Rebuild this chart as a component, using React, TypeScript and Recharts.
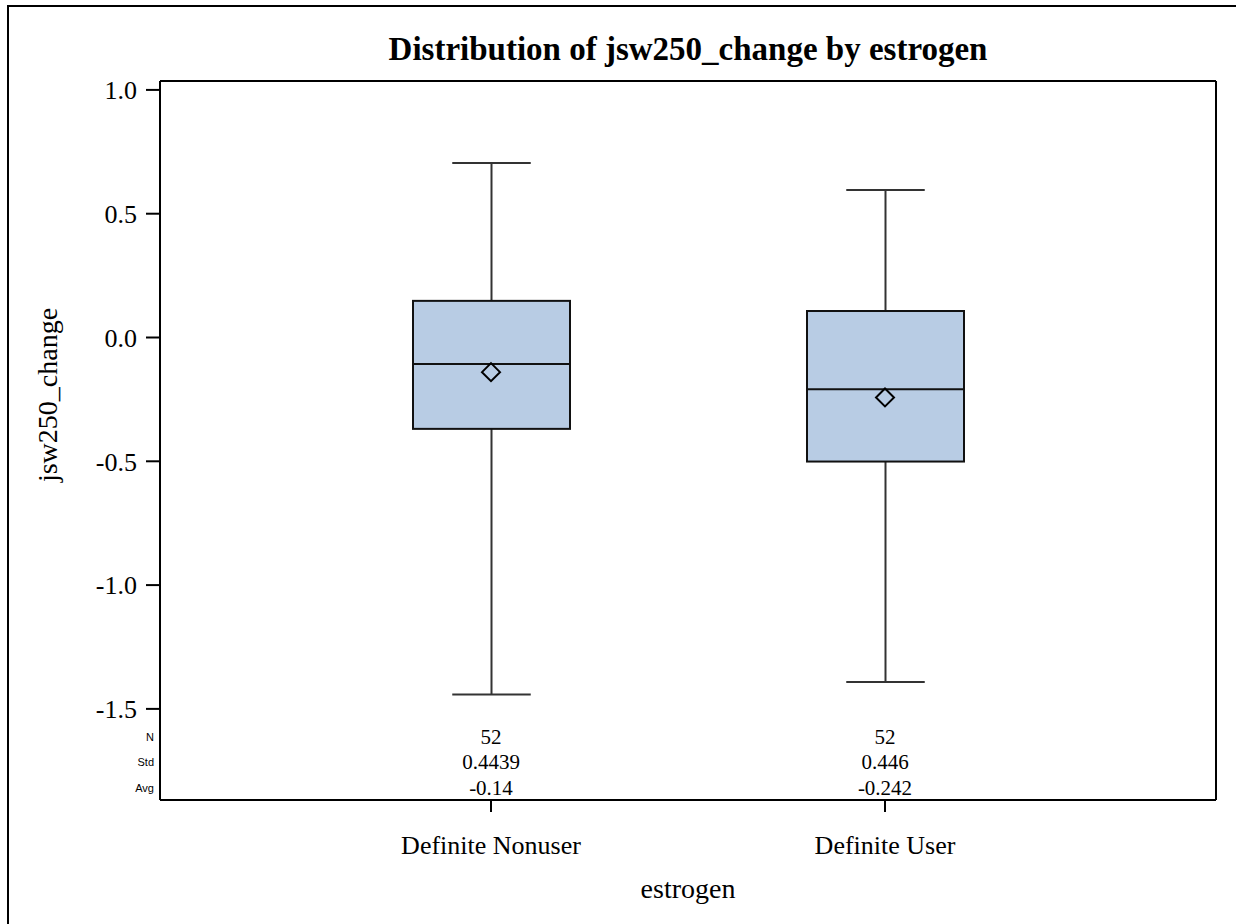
import React from 'react';
import { ComposedChart, Bar, Scatter, XAxis, YAxis, CartesianGrid } from 'recharts';

const categories = ['Definite Nonuser', 'Definite User'];
const mins = [-1.442, -1.391];
const q1s = [-0.369, -0.501];
const medians = [-0.107, -0.209];
const q3s = [0.148, 0.107];
const maxs = [0.705, 0.596];
const means = [-0.14, -0.242];
const counts = ['52', '52'];
const stds = ['0.4439', '0.446'];
const avgs = ['-0.14', '-0.242'];
const yTicks = [-1.5, -1.0, -0.5, 0.0, 0.5, 1.0];

const SERIF = '"Liberation Serif", "Times New Roman", serif';
const SANS = '"Liberation Sans", Arial, sans-serif';
const PLOT_LEFT = 151;

const data = categories.map((name, i) => ({
  name,
  range: [mins[i], maxs[i]],
  min: mins[i],
  q1: q1s[i],
  median: medians[i],
  q3: q3s[i],
  max: maxs[i],
  mean: means[i],
}));

const BoxShape = (props: any) => {
  const { x, y, width, height, payload } = props;
  const h = Math.abs(height);
  const top = height < 0 ? y + height : y;
  const span = payload.max - payload.min;
  const yOf = (v: number) => top + ((payload.max - v) / span) * h;
  const cx = x + width / 2;
  const capHalf = width / 4;
  return (
    <g>
      <line x1={cx} x2={cx} y1={yOf(payload.max)} y2={yOf(payload.q3)} stroke="#333" strokeWidth={2} />
      <line x1={cx} x2={cx} y1={yOf(payload.q1)} y2={yOf(payload.min)} stroke="#333" strokeWidth={2} />
      <line x1={cx - capHalf} x2={cx + capHalf} y1={yOf(payload.max)} y2={yOf(payload.max)} stroke="#333" strokeWidth={2} />
      <line x1={cx - capHalf} x2={cx + capHalf} y1={yOf(payload.min)} y2={yOf(payload.min)} stroke="#333" strokeWidth={2} />
      <rect
        x={x}
        y={yOf(payload.q3)}
        width={width}
        height={yOf(payload.q1) - yOf(payload.q3)}
        fill="#B8CCE4"
        stroke="#111"
        strokeWidth={2}
      />
      <line x1={x} x2={x + width} y1={yOf(payload.median)} y2={yOf(payload.median)} stroke="#111" strokeWidth={2} />
    </g>
  );
};

const MeanShape = (props: any) => {
  const { cx, cy } = props;
  const r = 9;
  return (
    <path
      d={`M${cx},${cy - r} L${cx + r},${cy} L${cx},${cy + r} L${cx - r},${cy} Z`}
      fill="none"
      stroke="#000"
      strokeWidth={2}
    />
  );
};

const CategoryTick = (props: any) => {
  const { x, y, payload, index } = props;
  const i = payload.index ?? index;
  const axisY = y - 11;
  return (
    <g fontFamily={SERIF} fill="#000">
      <line x1={x} x2={x} y1={axisY} y2={axisY + 12} stroke="#000" strokeWidth={2} />
      <text x={x} y={y - 67} textAnchor="middle" fontSize={21}>{counts[i]}</text>
      <text x={x} y={y - 42} textAnchor="middle" fontSize={21}>{stds[i]}</text>
      <text x={x} y={y - 16} textAnchor="middle" fontSize={21}>{avgs[i]}</text>
      <text x={x} y={y + 43} textAnchor="middle" fontSize={26}>{payload.value}</text>
      {i === 0 && (
        <g fontFamily={SANS} fontSize={11} textAnchor="end">
          <text x={PLOT_LEFT - 6} y={y - 70}>N</text>
          <text x={PLOT_LEFT - 6} y={y - 45}>Std</text>
          <text x={PLOT_LEFT - 6} y={y - 19}>Avg</text>
        </g>
      )}
    </g>
  );
};

const App: React.FC = () => {
  return (
    <div
      style={{
        position: 'fixed',
        top: 5,
        left: 7,
        width: 1236,
        height: 924,
        borderTop: '2px solid #000',
        borderLeft: '2px solid #000',
        background: '#fff',
        overflow: 'hidden',
      }}
    >
      <div
        style={{
          position: 'absolute',
          left: PLOT_LEFT,
          width: 1056,
          top: 24,
          textAlign: 'center',
          fontFamily: SERIF,
          fontWeight: 'bold',
          fontSize: 33,
          lineHeight: '36px',
        }}
      >
        Distribution of jsw250_change by estrogen
      </div>
      <ComposedChart
        width={1227}
        height={917}
        data={data}
        margin={{ top: 74, right: 20, left: 10, bottom: 24 }}
      >
        <CartesianGrid
          stroke="#000"
          strokeWidth={2}
          horizontalCoordinatesGenerator={({ offset }: any) => [offset.top, offset.top + offset.height]}
          verticalCoordinatesGenerator={({ offset }: any) => [offset.left, offset.left + offset.width]}
        />
        <XAxis
          dataKey="name"
          height={100}
          padding={{ left: 134, right: 134 }}
          axisLine={{ stroke: '#000', strokeWidth: 2 }}
          tickLine={false}
          tickSize={11}
          tickMargin={0}
          tick={<CategoryTick />}
          interval={0}
          label={(p: any) => {
            const vb = p.viewBox;
            return (
              <text x={vb.x + vb.width / 2} y={vb.y + 98} textAnchor="middle" fontFamily={SERIF} fontSize={28} fill="#000">
                estrogen
              </text>
            );
          }}
        />
        <YAxis
          width={141}
          domain={[-1.868, 1.036]}
          ticks={yTicks}
          allowDataOverflow
          tickFormatter={(v: number) => v.toFixed(1)}
          tick={{ fontFamily: SERIF, fontSize: 26, fill: '#000' }}
          tickSize={14}
          tickMargin={9}
          axisLine={{ stroke: '#000', strokeWidth: 2 }}
          tickLine={{ stroke: '#000', strokeWidth: 2 }}
          label={(p: any) => {
            const vb = p.viewBox;
            const lx = vb.x + 28;
            const ly = 388;
            return (
              <text
                x={lx}
                y={ly}
                transform={`rotate(-90 ${lx} ${ly})`}
                textAnchor="middle"
                dominantBaseline="central"
                fontFamily={SERIF}
                fontSize={28}
                fill="#000"
              >
                jsw250_change
              </text>
            );
          }}
        />
        <Bar dataKey="range" barSize={157} shape={<BoxShape />} isAnimationActive={false} />
        <Scatter dataKey="mean" shape={<MeanShape />} isAnimationActive={false} />
      </ComposedChart>
    </div>
  );
};

export default App;
